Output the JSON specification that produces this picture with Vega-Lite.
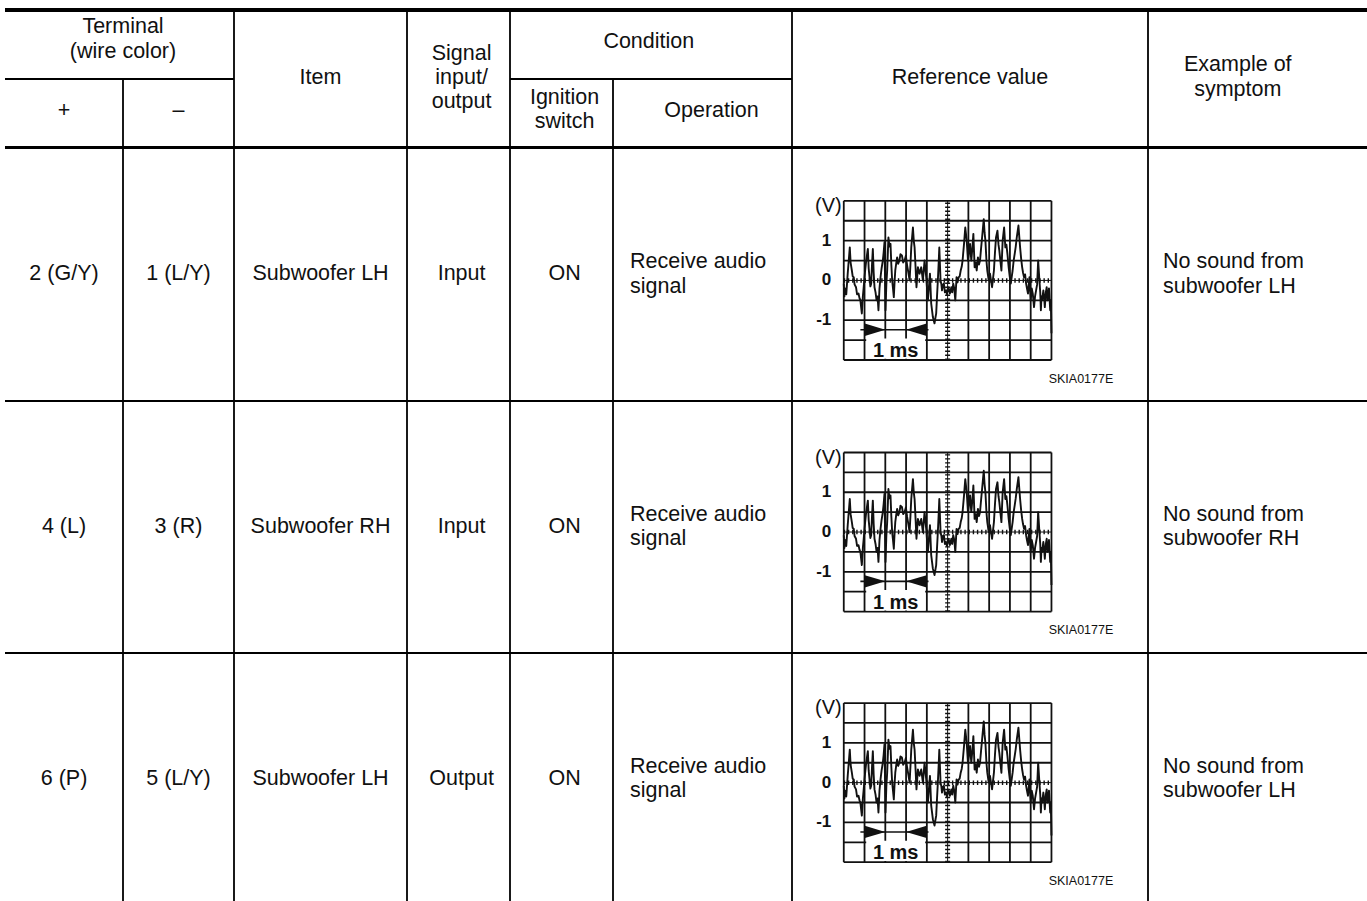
{
  "$schema": "https://vega.github.io/schema/vega-lite/v6.json",
  "width": 1367,
  "height": 901,
  "autosize": {"type": "fit", "contains": "padding"},
  "padding": 0,
  "background": "white",
  "config": {"view": {"stroke": null}, "text": {"font": "Liberation Sans"}},
  "datasets": {
    "vlines": [
      {"edge": 1, "from": 1, "to": 5},
      {"edge": 2, "from": 0, "to": 5},
      {"edge": 3, "from": 0, "to": 5},
      {"edge": 4, "from": 0, "to": 5},
      {"edge": 5, "from": 1, "to": 5},
      {"edge": 6, "from": 0, "to": 5},
      {"edge": 7, "from": 0, "to": 5}
    ],
    "hthin": [
      {"edge": 1, "from": 0, "to": 2},
      {"edge": 1, "from": 4, "to": 6},
      {"edge": 3, "from": 0, "to": 8},
      {"edge": 4, "from": 0, "to": 8}
    ],
    "htop": [{"edge": 0, "from": 0, "to": 8}],
    "hhead": [{"edge": 2, "from": 0, "to": 8}],
    "cells1": [
      {"c": 0.5, "r": 1.47, "text": "+"},
      {"c": 1.5, "r": 1.47, "text": "–"},
      {"c": 2.5, "r": 0.98, "text": "Item"},
      {"c": 5.2, "r": 0.46, "text": "Condition"},
      {"c": 5.55, "r": 1.47, "text": "Operation"},
      {"c": 6.5, "r": 0.98, "text": "Reference value"},
      {"c": 0.5, "r": 2.5, "text": "2 (G/Y)"},
      {"c": 1.5, "r": 2.5, "text": "1 (L/Y)"},
      {"c": 2.5, "r": 2.5, "text": "Subwoofer LH"},
      {"c": 3.53, "r": 2.5, "text": "Input"},
      {"c": 4.53, "r": 2.5, "text": "ON"},
      {"c": 0.5, "r": 3.5, "text": "4 (L)"},
      {"c": 1.5, "r": 3.5, "text": "3 (R)"},
      {"c": 2.5, "r": 3.5, "text": "Subwoofer RH"},
      {"c": 3.53, "r": 3.5, "text": "Input"},
      {"c": 4.53, "r": 3.5, "text": "ON"},
      {"c": 0.5, "r": 4.5, "text": "6 (P)"},
      {"c": 1.5, "r": 4.5, "text": "5 (L/Y)"},
      {"c": 2.5, "r": 4.5, "text": "Subwoofer LH"},
      {"c": 3.53, "r": 4.5, "text": "Output"},
      {"c": 4.53, "r": 4.5, "text": "ON"}
    ],
    "cells2": [
      {"c": 1.0, "r": 0.43, "text": "Terminal\n(wire color)"},
      {"c": 4.53, "r": 1.45, "text": "Ignition\nswitch"},
      {"c": 7.41, "r": 0.98, "text": "Example of\nsymptom"}
    ],
    "cells3": [
      {"c": 3.53, "r": 0.98, "text": "Signal\ninput/\noutput"}
    ],
    "leftcells": [
      {"c": 5, "r": 2.5, "text": "Receive audio\nsignal"},
      {"c": 5, "r": 3.5, "text": "Receive audio\nsignal"},
      {"c": 5, "r": 4.5, "text": "Receive audio\nsignal"}
    ],
    "leftcells2": [
      {"c": 7, "r": 2.5, "text": "No sound from\nsubwoofer LH"},
      {"c": 7, "r": 3.5, "text": "No sound from\nsubwoofer RH"},
      {"c": 7, "r": 4.5, "text": "No sound from\nsubwoofer LH"}
    ],
    "vgrid": [{"t": 0}, {"t": 1}, {"t": 2}, {"t": 3}, {"t": 4}, {"t": 6}, {"t": 7}, {"t": 8}, {"t": 9}, {"t": 10}],
    "hgrid": [{"v": -2}, {"v": -1.5}, {"v": -1}, {"v": -0.5}, {"v": 0.5}, {"v": 1}, {"v": 1.5}, {"v": 2}],
    "vcenter": [{"t": 5}],
    "hcenter": [{"v": 0}],
    "msbox": [{"t1": 1.08, "t2": 3.92, "v1": -1.97, "v2": -1.46}],
    "arrowline": [{"t1": 0.8, "t2": 4.08, "v": -1.24}],
    "arrowheads": [{"t": 2.0, "v": -1.24, "dir": "right"}, {"t": 3.0, "v": -1.24, "dir": "left"}],
    "scopetext": [
      {"t": -0.6, "v": 1, "kind": "num", "text": "1"},
      {"t": -0.6, "v": 0, "kind": "num", "text": "0"},
      {"t": -0.6, "v": -1, "kind": "num", "text": "-1"},
      {"t": -0.1, "v": 1.87, "kind": "unit", "text": "(V)"},
      {"t": 2.5, "v": -1.78, "kind": "ms", "text": "1 ms"},
      {"t": 11.42, "v": -2.47, "kind": "code", "text": "SKIA0177E"}
    ],
    "wave": [
      {"t": 0.00, "v": -0.08}, {"t": 0.03, "v": -0.4}, {"t": 0.06, "v": -0.2}, {"t": 0.12, "v": -0.35}, {"t": 0.19, "v": 0.17}, {"t": 0.24, "v": 0.5}, {"t": 0.29, "v": 0.83},
      {"t": 0.33, "v": 0.45}, {"t": 0.39, "v": 0.25}, {"t": 0.43, "v": 0.1}, {"t": 0.48, "v": 0.08}, {"t": 0.52, "v": -0.1}, {"t": 0.59, "v": -0.17}, {"t": 0.64, "v": -0.35}, {"t": 0.71, "v": -0.33},
      {"t": 0.76, "v": -0.45}, {"t": 0.80, "v": -0.5}, {"t": 0.87, "v": -0.83}, {"t": 0.92, "v": -0.4}, {"t": 0.96, "v": -0.17}, {"t": 1.02, "v": 0.2}, {"t": 1.08, "v": 0.5},
      {"t": 1.16, "v": 0.79}, {"t": 1.2, "v": 0.3}, {"t": 1.24, "v": 0.08}, {"t": 1.28, "v": -0.15}, {"t": 1.32, "v": -0.08}, {"t": 1.36, "v": 0.4}, {"t": 1.40, "v": 0.79},
      {"t": 1.44, "v": 0.2}, {"t": 1.48, "v": -0.17}, {"t": 1.53, "v": -0.3}, {"t": 1.58, "v": -0.5}, {"t": 1.63, "v": -0.4}, {"t": 1.67, "v": -0.75}, {"t": 1.72, "v": -0.2}, {"t": 1.77, "v": 0.08},
      {"t": 1.82, "v": 0.3}, {"t": 1.88, "v": 0.5}, {"t": 1.92, "v": 0.7}, {"t": 1.96, "v": 0.96}, {"t": 2.01, "v": -0.75}, {"t": 2.05, "v": -0.1}, {"t": 2.09, "v": 0.25},
      {"t": 2.15, "v": 1.08}, {"t": 2.2, "v": 0.85}, {"t": 2.25, "v": 0.92}, {"t": 2.29, "v": 0.4}, {"t": 2.33, "v": 0.0}, {"t": 2.37, "v": -0.2}, {"t": 2.41, "v": -0.42},
      {"t": 2.45, "v": 0.0}, {"t": 2.48, "v": 0.25}, {"t": 2.53, "v": 0.45}, {"t": 2.57, "v": 0.58}, {"t": 2.62, "v": 0.42}, {"t": 2.68, "v": 0.5}, {"t": 2.73, "v": 0.66}, {"t": 2.80, "v": 0.63},
      {"t": 2.86, "v": 0.45}, {"t": 2.93, "v": 0.5}, {"t": 2.99, "v": 0.62}, {"t": 3.05, "v": 0.38}, {"t": 3.11, "v": 0.2}, {"t": 3.17, "v": 0.0}, {"t": 3.21, "v": 0.4}, {"t": 3.25, "v": 0.83},
      {"t": 3.33, "v": 1.33}, {"t": 3.37, "v": 1.0}, {"t": 3.41, "v": 0.83}, {"t": 3.46, "v": 0.3}, {"t": 3.50, "v": -0.17}, {"t": 3.57, "v": 0.33},
      {"t": 3.65, "v": 0.17}, {"t": 3.73, "v": 0.33}, {"t": 3.81, "v": 0.0}, {"t": 3.89, "v": 0.5},
      {"t": 3.97, "v": 0.08}, {"t": 4.05, "v": -0.5}, {"t": 4.15, "v": 0.17}, {"t": 4.21, "v": -0.58},
      {"t": 4.29, "v": -0.92}, {"t": 4.37, "v": -1.08}, {"t": 4.41, "v": -0.95}, {"t": 4.45, "v": -0.83}, {"t": 4.49, "v": -0.4}, {"t": 4.53, "v": 0.0}, {"t": 4.57, "v": 0.45},
      {"t": 4.60, "v": 0.83}, {"t": 4.66, "v": 0.0}, {"t": 4.70, "v": -0.1}, {"t": 4.73, "v": -0.25}, {"t": 4.78, "v": -0.1}, {"t": 4.82, "v": -0.08}, {"t": 4.87, "v": -0.3},
      {"t": 4.92, "v": -0.25}, {"t": 4.97, "v": -0.35}, {"t": 5.02, "v": -0.17}, {"t": 5.07, "v": -0.22}, {"t": 5.11, "v": -0.33}, {"t": 5.18, "v": -0.17},
      {"t": 5.22, "v": -0.3}, {"t": 5.27, "v": -0.08}, {"t": 5.32, "v": -0.2}, {"t": 5.37, "v": -0.5}, {"t": 5.43, "v": 0.08}, {"t": 5.48, "v": -0.05}, {"t": 5.53, "v": 0.08},
      {"t": 5.58, "v": 0.1}, {"t": 5.63, "v": 0.25}, {"t": 5.68, "v": 0.35}, {"t": 5.72, "v": 0.5}, {"t": 5.79, "v": 0.92}, {"t": 5.85, "v": 1.33},
      {"t": 5.92, "v": 1.0}, {"t": 5.98, "v": 0.5}, {"t": 6.03, "v": 0.7}, {"t": 6.08, "v": 0.92}, {"t": 6.14, "v": 0.5}, {"t": 6.19, "v": 0.8},
      {"t": 6.24, "v": 1.17}, {"t": 6.30, "v": 0.33}, {"t": 6.35, "v": 0.45}, {"t": 6.40, "v": 0.25}, {"t": 6.46, "v": 0.58},
      {"t": 6.51, "v": 0.4}, {"t": 6.56, "v": 0.5}, {"t": 6.61, "v": 0.8}, {"t": 6.66, "v": 1.08}, {"t": 6.74, "v": 1.54}, {"t": 6.78, "v": 1.2}, {"t": 6.82, "v": 1.0},
      {"t": 6.87, "v": 0.5}, {"t": 6.91, "v": 0.25}, {"t": 6.98, "v": 0.0}, {"t": 7.04, "v": 0.17}, {"t": 7.09, "v": 0.0}, {"t": 7.14, "v": -0.17},
      {"t": 7.23, "v": 0.25}, {"t": 7.28, "v": 0.7}, {"t": 7.33, "v": 1.08}, {"t": 7.40, "v": 1.25}, {"t": 7.45, "v": 0.9}, {"t": 7.49, "v": 0.75},
      {"t": 7.54, "v": 0.5}, {"t": 7.59, "v": 0.25}, {"t": 7.65, "v": 1.0}, {"t": 7.72, "v": 1.33}, {"t": 7.78, "v": 0.83},
      {"t": 7.83, "v": 0.9}, {"t": 7.88, "v": 0.67}, {"t": 7.94, "v": 0.33}, {"t": 7.99, "v": 0.1}, {"t": 8.04, "v": -0.08}, {"t": 8.13, "v": 0.25},
      {"t": 8.18, "v": 0.5}, {"t": 8.23, "v": 0.67}, {"t": 8.28, "v": 0.85}, {"t": 8.33, "v": 1.08}, {"t": 8.41, "v": 1.38}, {"t": 8.45, "v": 1.1}, {"t": 8.49, "v": 0.83},
      {"t": 8.54, "v": 0.55}, {"t": 8.59, "v": 0.33}, {"t": 8.63, "v": 0.2}, {"t": 8.68, "v": 0.08}, {"t": 8.73, "v": 0.15}, {"t": 8.78, "v": -0.08}, {"t": 8.82, "v": -0.2}, {"t": 8.87, "v": -0.33},
      {"t": 8.94, "v": 0.08}, {"t": 9.00, "v": -0.5}, {"t": 9.05, "v": -0.2}, {"t": 9.10, "v": -0.33}, {"t": 9.16, "v": -0.67},
      {"t": 9.21, "v": -0.4}, {"t": 9.26, "v": -0.25}, {"t": 9.31, "v": -0.1}, {"t": 9.36, "v": 0.5}, {"t": 9.42, "v": 0.0}, {"t": 9.46, "v": -0.3}, {"t": 9.49, "v": -0.75},
      {"t": 9.52, "v": -0.4}, {"t": 9.55, "v": -0.5}, {"t": 9.61, "v": -0.25}, {"t": 9.65, "v": -0.45}, {"t": 9.68, "v": -0.67}, {"t": 9.73, "v": -0.3}, {"t": 9.77, "v": -0.17},
      {"t": 9.81, "v": -0.5}, {"t": 9.84, "v": -0.42}, {"t": 9.88, "v": -0.2}, {"t": 9.94, "v": -0.75}, {"t": 9.97, "v": -0.5}, {"t": 10.0, "v": -1.33}
    ]
  },
  "resolve": {"scale": {"x": "independent", "y": "independent"}},
  "layer": [
    {
      "layer": [
        {
          "data": {"name": "htop"},
          "mark": {"type": "rule", "stroke": "#000", "strokeWidth": 4},
          "encoding": {
            "y": {"field": "edge", "type": "quantitative", "scale": {"domain": [0, 1, 2, 3, 4, 5], "range": [10, 79, 147.5, 401, 653, 905], "nice": false, "zero": false}, "axis": null},
            "x": {"field": "from", "type": "quantitative", "scale": {"domain": [0, 1, 2, 3, 4, 5, 6, 7, 8], "range": [5, 123, 234, 407, 510, 613, 792, 1148, 1367], "nice": false, "zero": false}, "axis": null},
            "x2": {"field": "to"}
          }
        },
        {
          "data": {"name": "hhead"},
          "mark": {"type": "rule", "stroke": "#000", "strokeWidth": 3.2},
          "encoding": {
            "y": {"field": "edge", "type": "quantitative", "scale": {"domain": [0, 1, 2, 3, 4, 5], "range": [10, 79, 147.5, 401, 653, 905], "nice": false, "zero": false}, "axis": null},
            "x": {"field": "from", "type": "quantitative", "scale": {"domain": [0, 1, 2, 3, 4, 5, 6, 7, 8], "range": [5, 123, 234, 407, 510, 613, 792, 1148, 1367], "nice": false, "zero": false}, "axis": null},
            "x2": {"field": "to"}
          }
        },
        {
          "data": {"name": "hthin"},
          "mark": {"type": "rule", "stroke": "#000", "strokeWidth": 2},
          "encoding": {
            "y": {"field": "edge", "type": "quantitative", "scale": {"domain": [0, 1, 2, 3, 4, 5], "range": [10, 79, 147.5, 401, 653, 905], "nice": false, "zero": false}, "axis": null},
            "x": {"field": "from", "type": "quantitative", "scale": {"domain": [0, 1, 2, 3, 4, 5, 6, 7, 8], "range": [5, 123, 234, 407, 510, 613, 792, 1148, 1367], "nice": false, "zero": false}, "axis": null},
            "x2": {"field": "to"}
          }
        },
        {
          "data": {"name": "vlines"},
          "mark": {"type": "rule", "stroke": "#000", "strokeWidth": 1.8},
          "encoding": {
            "x": {"field": "edge", "type": "quantitative", "scale": {"domain": [0, 1, 2, 3, 4, 5, 6, 7, 8], "range": [5, 123, 234, 407, 510, 613, 792, 1148, 1367], "nice": false, "zero": false}, "axis": null},
            "y": {"field": "from", "type": "quantitative", "scale": {"domain": [0, 1, 2, 3, 4, 5], "range": [10, 79, 147.5, 401, 653, 905], "nice": false, "zero": false}, "axis": null},
            "y2": {"field": "to"}
          }
        },
        {
          "data": {"name": "cells1"},
          "mark": {"type": "text", "align": "center", "baseline": "middle", "fontSize": 21.5, "fill": "#111"},
          "encoding": {
            "x": {"field": "c", "type": "quantitative", "scale": {"domain": [0, 1, 2, 3, 4, 5, 6, 7, 8], "range": [5, 123, 234, 407, 510, 613, 792, 1148, 1367], "nice": false, "zero": false}, "axis": null},
            "y": {"field": "r", "type": "quantitative", "scale": {"domain": [0, 1, 2, 3, 4, 5], "range": [10, 79, 147.5, 401, 653, 905], "nice": false, "zero": false}, "axis": null},
            "text": {"field": "text"}
          }
        },
        {
          "data": {"name": "cells2"},
          "mark": {"type": "text", "align": "center", "baseline": "middle", "lineBreak": "\n", "lineHeight": 24.5, "dy": -12.25, "fontSize": 21.5, "fill": "#111"},
          "encoding": {
            "x": {"field": "c", "type": "quantitative", "scale": {"domain": [0, 1, 2, 3, 4, 5, 6, 7, 8], "range": [5, 123, 234, 407, 510, 613, 792, 1148, 1367], "nice": false, "zero": false}, "axis": null},
            "y": {"field": "r", "type": "quantitative", "scale": {"domain": [0, 1, 2, 3, 4, 5], "range": [10, 79, 147.5, 401, 653, 905], "nice": false, "zero": false}, "axis": null},
            "text": {"field": "text"}
          }
        },
        {
          "data": {"name": "cells3"},
          "mark": {"type": "text", "align": "center", "baseline": "middle", "lineBreak": "\n", "lineHeight": 24, "dy": -24, "fontSize": 21.5, "fill": "#111"},
          "encoding": {
            "x": {"field": "c", "type": "quantitative", "scale": {"domain": [0, 1, 2, 3, 4, 5, 6, 7, 8], "range": [5, 123, 234, 407, 510, 613, 792, 1148, 1367], "nice": false, "zero": false}, "axis": null},
            "y": {"field": "r", "type": "quantitative", "scale": {"domain": [0, 1, 2, 3, 4, 5], "range": [10, 79, 147.5, 401, 653, 905], "nice": false, "zero": false}, "axis": null},
            "text": {"field": "text"}
          }
        },
        {
          "data": {"name": "leftcells"},
          "mark": {"type": "text", "align": "left", "baseline": "middle", "lineBreak": "\n", "lineHeight": 24.5, "dy": -12.25, "fontSize": 21.5, "fill": "#111", "dx": 17},
          "encoding": {
            "x": {"field": "c", "type": "quantitative", "scale": {"domain": [0, 1, 2, 3, 4, 5, 6, 7, 8], "range": [5, 123, 234, 407, 510, 613, 792, 1148, 1367], "nice": false, "zero": false}, "axis": null},
            "y": {"field": "r", "type": "quantitative", "scale": {"domain": [0, 1, 2, 3, 4, 5], "range": [10, 79, 147.5, 401, 653, 905], "nice": false, "zero": false}, "axis": null},
            "text": {"field": "text"}
          }
        },
        {
          "data": {"name": "leftcells2"},
          "mark": {"type": "text", "align": "left", "baseline": "middle", "lineBreak": "\n", "lineHeight": 24.5, "dy": -12.25, "fontSize": 21.5, "fill": "#111", "dx": 15},
          "encoding": {
            "x": {"field": "c", "type": "quantitative", "scale": {"domain": [0, 1, 2, 3, 4, 5, 6, 7, 8], "range": [5, 123, 234, 407, 510, 613, 792, 1148, 1367], "nice": false, "zero": false}, "axis": null},
            "y": {"field": "r", "type": "quantitative", "scale": {"domain": [0, 1, 2, 3, 4, 5], "range": [10, 79, 147.5, 401, 653, 905], "nice": false, "zero": false}, "axis": null},
            "text": {"field": "text"}
          }
        }
      ]
    },
    {
      "layer": [
        {"data": {"name": "vgrid"}, "mark": {"type": "rule", "stroke": "#111", "strokeWidth": 1.8},
         "encoding": {"x": {"field": "t", "type": "quantitative", "scale": {"domain": [-40.625, 25.096], "nice": false, "zero": false}, "axis": null},
                      "y": {"datum": -2, "type": "quantitative", "scale": {"domain": [-15.475, 7.05], "nice": false, "zero": false}, "axis": null}, "y2": {"datum": 2}}},
        {"data": {"name": "hgrid"}, "mark": {"type": "rule", "stroke": "#111", "strokeWidth": 1.8},
         "encoding": {"y": {"field": "v", "type": "quantitative", "scale": {"domain": [-15.475, 7.05], "nice": false, "zero": false}, "axis": null},
                      "x": {"datum": 0, "type": "quantitative", "scale": {"domain": [-40.625, 25.096], "nice": false, "zero": false}, "axis": null}, "x2": {"datum": 10}}},
        {"data": {"name": "vcenter"}, "mark": {"type": "rule", "stroke": "#111", "strokeWidth": 1},
         "encoding": {"x": {"field": "t", "type": "quantitative", "scale": {"domain": [-40.625, 25.096], "nice": false, "zero": false}, "axis": null},
                      "y": {"datum": -2, "type": "quantitative", "scale": {"domain": [-15.475, 7.05], "nice": false, "zero": false}, "axis": null}, "y2": {"datum": 2}}},
        {"data": {"name": "vcenter"}, "mark": {"type": "rule", "stroke": "#111", "strokeWidth": 5, "strokeDash": [1.4, 2.6]},
         "encoding": {"x": {"field": "t", "type": "quantitative", "scale": {"domain": [-40.625, 25.096], "nice": false, "zero": false}, "axis": null},
                      "y": {"datum": -2, "type": "quantitative", "scale": {"domain": [-15.475, 7.05], "nice": false, "zero": false}, "axis": null}, "y2": {"datum": 2}}},
        {"data": {"name": "hcenter"}, "mark": {"type": "rule", "stroke": "#111", "strokeWidth": 1},
         "encoding": {"y": {"field": "v", "type": "quantitative", "scale": {"domain": [-15.475, 7.05], "nice": false, "zero": false}, "axis": null},
                      "x": {"datum": 0, "type": "quantitative", "scale": {"domain": [-40.625, 25.096], "nice": false, "zero": false}, "axis": null}, "x2": {"datum": 10}}},
        {"data": {"name": "hcenter"}, "mark": {"type": "rule", "stroke": "#111", "strokeWidth": 4.5, "strokeDash": [1.4, 2.76]},
         "encoding": {"y": {"field": "v", "type": "quantitative", "scale": {"domain": [-15.475, 7.05], "nice": false, "zero": false}, "axis": null},
                      "x": {"datum": 0, "type": "quantitative", "scale": {"domain": [-40.625, 25.096], "nice": false, "zero": false}, "axis": null}, "x2": {"datum": 10}}},
        {"data": {"name": "msbox"}, "mark": {"type": "rect", "fill": "white"},
         "encoding": {"x": {"field": "t1", "type": "quantitative", "scale": {"domain": [-40.625, 25.096], "nice": false, "zero": false}, "axis": null}, "x2": {"field": "t2"},
                      "y": {"field": "v1", "type": "quantitative", "scale": {"domain": [-15.475, 7.05], "nice": false, "zero": false}, "axis": null}, "y2": {"field": "v2"}}},
        {"data": {"name": "wave"}, "mark": {"type": "line", "stroke": "#111", "strokeWidth": 1.9, "strokeJoin": "round"},
         "encoding": {"x": {"field": "t", "type": "quantitative", "scale": {"domain": [-40.625, 25.096], "nice": false, "zero": false}, "axis": null},
                      "y": {"field": "v", "type": "quantitative", "scale": {"domain": [-15.475, 7.05], "nice": false, "zero": false}, "axis": null}, "order": {"field": "t"}}},
        {"data": {"name": "arrowline"}, "mark": {"type": "rule", "stroke": "#111", "strokeWidth": 1.6},
         "encoding": {"x": {"field": "t1", "type": "quantitative", "scale": {"domain": [-40.625, 25.096], "nice": false, "zero": false}, "axis": null}, "x2": {"field": "t2"},
                      "y": {"field": "v", "type": "quantitative", "scale": {"domain": [-15.475, 7.05], "nice": false, "zero": false}, "axis": null}}},
        {"data": {"name": "arrowheads"}, "mark": {"type": "point", "filled": true, "size": 420, "fill": "#111", "opacity": 1, "strokeWidth": 0},
         "encoding": {"x": {"field": "t", "type": "quantitative", "scale": {"domain": [-40.625, 25.096], "nice": false, "zero": false}, "axis": null},
                      "y": {"field": "v", "type": "quantitative", "scale": {"domain": [-15.475, 7.05], "nice": false, "zero": false}, "axis": null},
                      "shape": {"field": "dir", "type": "nominal", "scale": {"domain": ["right", "left"], "range": ["M -2 -0.6 L 0 0 L -2 0.6 Z", "M 2 -0.6 L 0 0 L 2 0.6 Z"]}, "legend": null}}},
        {"data": {"name": "scopetext"}, "transform": [{"filter": "datum.kind == 'num'"}], "mark": {"type": "text", "align": "right", "baseline": "middle", "fontSize": 17, "fontWeight": "bold", "fill": "#111"},
         "encoding": {"x": {"field": "t", "type": "quantitative", "scale": {"domain": [-40.625, 25.096], "nice": false, "zero": false}, "axis": null},
                      "y": {"field": "v", "type": "quantitative", "scale": {"domain": [-15.475, 7.05], "nice": false, "zero": false}, "axis": null}, "text": {"field": "text"}}},
        {"data": {"name": "scopetext"}, "transform": [{"filter": "datum.kind == 'unit'"}], "mark": {"type": "text", "align": "right", "baseline": "middle", "fontSize": 20, "fill": "#111"},
         "encoding": {"x": {"field": "t", "type": "quantitative", "scale": {"domain": [-40.625, 25.096], "nice": false, "zero": false}, "axis": null},
                      "y": {"field": "v", "type": "quantitative", "scale": {"domain": [-15.475, 7.05], "nice": false, "zero": false}, "axis": null}, "text": {"field": "text"}}},
        {"data": {"name": "scopetext"}, "transform": [{"filter": "datum.kind == 'ms'"}], "mark": {"type": "text", "align": "center", "baseline": "middle", "fontSize": 20, "fontWeight": "bold", "fill": "#111"},
         "encoding": {"x": {"field": "t", "type": "quantitative", "scale": {"domain": [-40.625, 25.096], "nice": false, "zero": false}, "axis": null},
                      "y": {"field": "v", "type": "quantitative", "scale": {"domain": [-15.475, 7.05], "nice": false, "zero": false}, "axis": null}, "text": {"field": "text"}}},
        {"data": {"name": "scopetext"}, "transform": [{"filter": "datum.kind == 'code'"}], "mark": {"type": "text", "align": "center", "baseline": "middle", "fontSize": 12.5, "fill": "#111"},
         "encoding": {"x": {"field": "t", "type": "quantitative", "scale": {"domain": [-40.625, 25.096], "nice": false, "zero": false}, "axis": null},
                      "y": {"field": "v", "type": "quantitative", "scale": {"domain": [-15.475, 7.05], "nice": false, "zero": false}, "axis": null}, "text": {"field": "text"}}}
      ]
    },
    {
      "layer": [
        {"data": {"name": "vgrid"}, "mark": {"type": "rule", "stroke": "#111", "strokeWidth": 1.8},
         "encoding": {"x": {"field": "t", "type": "quantitative", "scale": {"domain": [-40.625, 25.096], "nice": false, "zero": false}, "axis": null},
                      "y": {"datum": -2, "type": "quantitative", "scale": {"domain": [-9.15, 13.375], "nice": false, "zero": false}, "axis": null}, "y2": {"datum": 2}}},
        {"data": {"name": "hgrid"}, "mark": {"type": "rule", "stroke": "#111", "strokeWidth": 1.8},
         "encoding": {"y": {"field": "v", "type": "quantitative", "scale": {"domain": [-9.15, 13.375], "nice": false, "zero": false}, "axis": null},
                      "x": {"datum": 0, "type": "quantitative", "scale": {"domain": [-40.625, 25.096], "nice": false, "zero": false}, "axis": null}, "x2": {"datum": 10}}},
        {"data": {"name": "vcenter"}, "mark": {"type": "rule", "stroke": "#111", "strokeWidth": 1},
         "encoding": {"x": {"field": "t", "type": "quantitative", "scale": {"domain": [-40.625, 25.096], "nice": false, "zero": false}, "axis": null},
                      "y": {"datum": -2, "type": "quantitative", "scale": {"domain": [-9.15, 13.375], "nice": false, "zero": false}, "axis": null}, "y2": {"datum": 2}}},
        {"data": {"name": "vcenter"}, "mark": {"type": "rule", "stroke": "#111", "strokeWidth": 5, "strokeDash": [1.4, 2.6]},
         "encoding": {"x": {"field": "t", "type": "quantitative", "scale": {"domain": [-40.625, 25.096], "nice": false, "zero": false}, "axis": null},
                      "y": {"datum": -2, "type": "quantitative", "scale": {"domain": [-9.15, 13.375], "nice": false, "zero": false}, "axis": null}, "y2": {"datum": 2}}},
        {"data": {"name": "hcenter"}, "mark": {"type": "rule", "stroke": "#111", "strokeWidth": 1},
         "encoding": {"y": {"field": "v", "type": "quantitative", "scale": {"domain": [-9.15, 13.375], "nice": false, "zero": false}, "axis": null},
                      "x": {"datum": 0, "type": "quantitative", "scale": {"domain": [-40.625, 25.096], "nice": false, "zero": false}, "axis": null}, "x2": {"datum": 10}}},
        {"data": {"name": "hcenter"}, "mark": {"type": "rule", "stroke": "#111", "strokeWidth": 4.5, "strokeDash": [1.4, 2.76]},
         "encoding": {"y": {"field": "v", "type": "quantitative", "scale": {"domain": [-9.15, 13.375], "nice": false, "zero": false}, "axis": null},
                      "x": {"datum": 0, "type": "quantitative", "scale": {"domain": [-40.625, 25.096], "nice": false, "zero": false}, "axis": null}, "x2": {"datum": 10}}},
        {"data": {"name": "msbox"}, "mark": {"type": "rect", "fill": "white"},
         "encoding": {"x": {"field": "t1", "type": "quantitative", "scale": {"domain": [-40.625, 25.096], "nice": false, "zero": false}, "axis": null}, "x2": {"field": "t2"},
                      "y": {"field": "v1", "type": "quantitative", "scale": {"domain": [-9.15, 13.375], "nice": false, "zero": false}, "axis": null}, "y2": {"field": "v2"}}},
        {"data": {"name": "wave"}, "mark": {"type": "line", "stroke": "#111", "strokeWidth": 1.9, "strokeJoin": "round"},
         "encoding": {"x": {"field": "t", "type": "quantitative", "scale": {"domain": [-40.625, 25.096], "nice": false, "zero": false}, "axis": null},
                      "y": {"field": "v", "type": "quantitative", "scale": {"domain": [-9.15, 13.375], "nice": false, "zero": false}, "axis": null}, "order": {"field": "t"}}},
        {"data": {"name": "arrowline"}, "mark": {"type": "rule", "stroke": "#111", "strokeWidth": 1.6},
         "encoding": {"x": {"field": "t1", "type": "quantitative", "scale": {"domain": [-40.625, 25.096], "nice": false, "zero": false}, "axis": null}, "x2": {"field": "t2"},
                      "y": {"field": "v", "type": "quantitative", "scale": {"domain": [-9.15, 13.375], "nice": false, "zero": false}, "axis": null}}},
        {"data": {"name": "arrowheads"}, "mark": {"type": "point", "filled": true, "size": 420, "fill": "#111", "opacity": 1, "strokeWidth": 0},
         "encoding": {"x": {"field": "t", "type": "quantitative", "scale": {"domain": [-40.625, 25.096], "nice": false, "zero": false}, "axis": null},
                      "y": {"field": "v", "type": "quantitative", "scale": {"domain": [-9.15, 13.375], "nice": false, "zero": false}, "axis": null},
                      "shape": {"field": "dir", "type": "nominal", "scale": {"domain": ["right", "left"], "range": ["M -2 -0.6 L 0 0 L -2 0.6 Z", "M 2 -0.6 L 0 0 L 2 0.6 Z"]}, "legend": null}}},
        {"data": {"name": "scopetext"}, "transform": [{"filter": "datum.kind == 'num'"}], "mark": {"type": "text", "align": "right", "baseline": "middle", "fontSize": 17, "fontWeight": "bold", "fill": "#111"},
         "encoding": {"x": {"field": "t", "type": "quantitative", "scale": {"domain": [-40.625, 25.096], "nice": false, "zero": false}, "axis": null},
                      "y": {"field": "v", "type": "quantitative", "scale": {"domain": [-9.15, 13.375], "nice": false, "zero": false}, "axis": null}, "text": {"field": "text"}}},
        {"data": {"name": "scopetext"}, "transform": [{"filter": "datum.kind == 'unit'"}], "mark": {"type": "text", "align": "right", "baseline": "middle", "fontSize": 20, "fill": "#111"},
         "encoding": {"x": {"field": "t", "type": "quantitative", "scale": {"domain": [-40.625, 25.096], "nice": false, "zero": false}, "axis": null},
                      "y": {"field": "v", "type": "quantitative", "scale": {"domain": [-9.15, 13.375], "nice": false, "zero": false}, "axis": null}, "text": {"field": "text"}}},
        {"data": {"name": "scopetext"}, "transform": [{"filter": "datum.kind == 'ms'"}], "mark": {"type": "text", "align": "center", "baseline": "middle", "fontSize": 20, "fontWeight": "bold", "fill": "#111"},
         "encoding": {"x": {"field": "t", "type": "quantitative", "scale": {"domain": [-40.625, 25.096], "nice": false, "zero": false}, "axis": null},
                      "y": {"field": "v", "type": "quantitative", "scale": {"domain": [-9.15, 13.375], "nice": false, "zero": false}, "axis": null}, "text": {"field": "text"}}},
        {"data": {"name": "scopetext"}, "transform": [{"filter": "datum.kind == 'code'"}], "mark": {"type": "text", "align": "center", "baseline": "middle", "fontSize": 12.5, "fill": "#111"},
         "encoding": {"x": {"field": "t", "type": "quantitative", "scale": {"domain": [-40.625, 25.096], "nice": false, "zero": false}, "axis": null},
                      "y": {"field": "v", "type": "quantitative", "scale": {"domain": [-9.15, 13.375], "nice": false, "zero": false}, "axis": null}, "text": {"field": "text"}}}
      ]
    },
    {
      "layer": [
        {"data": {"name": "vgrid"}, "mark": {"type": "rule", "stroke": "#111", "strokeWidth": 1.8},
         "encoding": {"x": {"field": "t", "type": "quantitative", "scale": {"domain": [-40.625, 25.096], "nice": false, "zero": false}, "axis": null},
                      "y": {"datum": -2, "type": "quantitative", "scale": {"domain": [-2.85, 19.675], "nice": false, "zero": false}, "axis": null}, "y2": {"datum": 2}}},
        {"data": {"name": "hgrid"}, "mark": {"type": "rule", "stroke": "#111", "strokeWidth": 1.8},
         "encoding": {"y": {"field": "v", "type": "quantitative", "scale": {"domain": [-2.85, 19.675], "nice": false, "zero": false}, "axis": null},
                      "x": {"datum": 0, "type": "quantitative", "scale": {"domain": [-40.625, 25.096], "nice": false, "zero": false}, "axis": null}, "x2": {"datum": 10}}},
        {"data": {"name": "vcenter"}, "mark": {"type": "rule", "stroke": "#111", "strokeWidth": 1},
         "encoding": {"x": {"field": "t", "type": "quantitative", "scale": {"domain": [-40.625, 25.096], "nice": false, "zero": false}, "axis": null},
                      "y": {"datum": -2, "type": "quantitative", "scale": {"domain": [-2.85, 19.675], "nice": false, "zero": false}, "axis": null}, "y2": {"datum": 2}}},
        {"data": {"name": "vcenter"}, "mark": {"type": "rule", "stroke": "#111", "strokeWidth": 5, "strokeDash": [1.4, 2.6]},
         "encoding": {"x": {"field": "t", "type": "quantitative", "scale": {"domain": [-40.625, 25.096], "nice": false, "zero": false}, "axis": null},
                      "y": {"datum": -2, "type": "quantitative", "scale": {"domain": [-2.85, 19.675], "nice": false, "zero": false}, "axis": null}, "y2": {"datum": 2}}},
        {"data": {"name": "hcenter"}, "mark": {"type": "rule", "stroke": "#111", "strokeWidth": 1},
         "encoding": {"y": {"field": "v", "type": "quantitative", "scale": {"domain": [-2.85, 19.675], "nice": false, "zero": false}, "axis": null},
                      "x": {"datum": 0, "type": "quantitative", "scale": {"domain": [-40.625, 25.096], "nice": false, "zero": false}, "axis": null}, "x2": {"datum": 10}}},
        {"data": {"name": "hcenter"}, "mark": {"type": "rule", "stroke": "#111", "strokeWidth": 4.5, "strokeDash": [1.4, 2.76]},
         "encoding": {"y": {"field": "v", "type": "quantitative", "scale": {"domain": [-2.85, 19.675], "nice": false, "zero": false}, "axis": null},
                      "x": {"datum": 0, "type": "quantitative", "scale": {"domain": [-40.625, 25.096], "nice": false, "zero": false}, "axis": null}, "x2": {"datum": 10}}},
        {"data": {"name": "msbox"}, "mark": {"type": "rect", "fill": "white"},
         "encoding": {"x": {"field": "t1", "type": "quantitative", "scale": {"domain": [-40.625, 25.096], "nice": false, "zero": false}, "axis": null}, "x2": {"field": "t2"},
                      "y": {"field": "v1", "type": "quantitative", "scale": {"domain": [-2.85, 19.675], "nice": false, "zero": false}, "axis": null}, "y2": {"field": "v2"}}},
        {"data": {"name": "wave"}, "mark": {"type": "line", "stroke": "#111", "strokeWidth": 1.9, "strokeJoin": "round"},
         "encoding": {"x": {"field": "t", "type": "quantitative", "scale": {"domain": [-40.625, 25.096], "nice": false, "zero": false}, "axis": null},
                      "y": {"field": "v", "type": "quantitative", "scale": {"domain": [-2.85, 19.675], "nice": false, "zero": false}, "axis": null}, "order": {"field": "t"}}},
        {"data": {"name": "arrowline"}, "mark": {"type": "rule", "stroke": "#111", "strokeWidth": 1.6},
         "encoding": {"x": {"field": "t1", "type": "quantitative", "scale": {"domain": [-40.625, 25.096], "nice": false, "zero": false}, "axis": null}, "x2": {"field": "t2"},
                      "y": {"field": "v", "type": "quantitative", "scale": {"domain": [-2.85, 19.675], "nice": false, "zero": false}, "axis": null}}},
        {"data": {"name": "arrowheads"}, "mark": {"type": "point", "filled": true, "size": 420, "fill": "#111", "opacity": 1, "strokeWidth": 0},
         "encoding": {"x": {"field": "t", "type": "quantitative", "scale": {"domain": [-40.625, 25.096], "nice": false, "zero": false}, "axis": null},
                      "y": {"field": "v", "type": "quantitative", "scale": {"domain": [-2.85, 19.675], "nice": false, "zero": false}, "axis": null},
                      "shape": {"field": "dir", "type": "nominal", "scale": {"domain": ["right", "left"], "range": ["M -2 -0.6 L 0 0 L -2 0.6 Z", "M 2 -0.6 L 0 0 L 2 0.6 Z"]}, "legend": null}}},
        {"data": {"name": "scopetext"}, "transform": [{"filter": "datum.kind == 'num'"}], "mark": {"type": "text", "align": "right", "baseline": "middle", "fontSize": 17, "fontWeight": "bold", "fill": "#111"},
         "encoding": {"x": {"field": "t", "type": "quantitative", "scale": {"domain": [-40.625, 25.096], "nice": false, "zero": false}, "axis": null},
                      "y": {"field": "v", "type": "quantitative", "scale": {"domain": [-2.85, 19.675], "nice": false, "zero": false}, "axis": null}, "text": {"field": "text"}}},
        {"data": {"name": "scopetext"}, "transform": [{"filter": "datum.kind == 'unit'"}], "mark": {"type": "text", "align": "right", "baseline": "middle", "fontSize": 20, "fill": "#111"},
         "encoding": {"x": {"field": "t", "type": "quantitative", "scale": {"domain": [-40.625, 25.096], "nice": false, "zero": false}, "axis": null},
                      "y": {"field": "v", "type": "quantitative", "scale": {"domain": [-2.85, 19.675], "nice": false, "zero": false}, "axis": null}, "text": {"field": "text"}}},
        {"data": {"name": "scopetext"}, "transform": [{"filter": "datum.kind == 'ms'"}], "mark": {"type": "text", "align": "center", "baseline": "middle", "fontSize": 20, "fontWeight": "bold", "fill": "#111"},
         "encoding": {"x": {"field": "t", "type": "quantitative", "scale": {"domain": [-40.625, 25.096], "nice": false, "zero": false}, "axis": null},
                      "y": {"field": "v", "type": "quantitative", "scale": {"domain": [-2.85, 19.675], "nice": false, "zero": false}, "axis": null}, "text": {"field": "text"}}},
        {"data": {"name": "scopetext"}, "transform": [{"filter": "datum.kind == 'code'"}], "mark": {"type": "text", "align": "center", "baseline": "middle", "fontSize": 12.5, "fill": "#111"},
         "encoding": {"x": {"field": "t", "type": "quantitative", "scale": {"domain": [-40.625, 25.096], "nice": false, "zero": false}, "axis": null},
                      "y": {"field": "v", "type": "quantitative", "scale": {"domain": [-2.85, 19.675], "nice": false, "zero": false}, "axis": null}, "text": {"field": "text"}}}
      ]
    }
  ]
}
